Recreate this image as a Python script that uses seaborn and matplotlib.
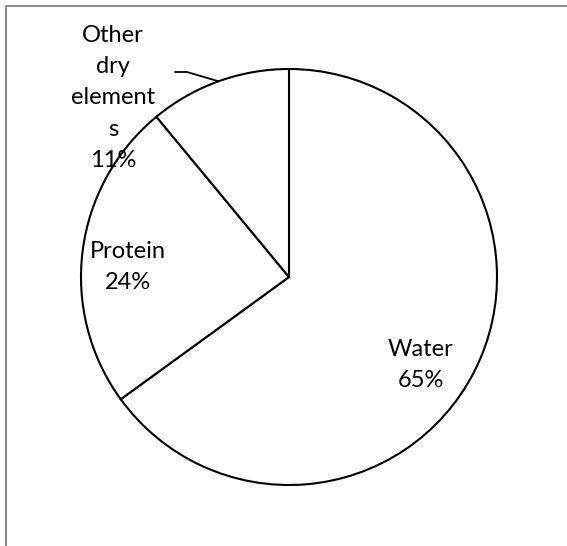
import matplotlib
matplotlib.use("Agg")
import matplotlib.pyplot as plt
import seaborn as sns
import numpy as np
from matplotlib.lines import Line2D

# data
categories = ["Water", "Protein", "Other\ndry\nelement\ns"]
shares = [65, 24, 11]
pct_labels = ["65%", "24%", "11%"]

sns.set_style("white")
plt.rcParams['font.family'] = ['Lato', 'DejaVu Sans']

W, H = 567, 546
fig = plt.figure(figsize=(W / 100, H / 100), dpi=100, facecolor='white')
ax = fig.add_axes([0, 0, 1, 1])

cx, cy, r = 289, H - 277, 208
wedges, _ = ax.pie(shares, startangle=90, counterclock=False, center=(cx, cy),
                   radius=r, colors=['white'] * len(shares),
                   wedgeprops=dict(edgecolor='black', linewidth=1.5))
ax.set_xlim(0, W)
ax.set_ylim(0, H)
ax.set_aspect('equal')
ax.axis('off')

# label positions in pixel coords (x, y from top)
label_pos = [(421, 365), (128, 267), (113, 98)]
for cat, pct, (lx, ly) in zip(categories, pct_labels, label_pos):
    ax.text(lx, H - ly, cat + "\n" + pct, ha='center', va='center',
            fontsize=17, linespacing=1.6, color='black')

# leader line for the small slice
w = wedges[2]
mid = np.deg2rad((w.theta1 + w.theta2) / 2)
ex, ey = cx + r * np.cos(mid), cy + r * np.sin(mid)
ax.plot([175, 187, ex], [H - 72, H - 72, ey], color='black', lw=1.3)

# chart frame (only top and left edges fall inside the image)
fx, fy = 5.5 / W, (H - 5.5) / H
fig.add_artist(Line2D([fx, fx, 1.0], [0.0, fy, fy], transform=fig.transFigure,
                      color='#8c8c8c', lw=1.5))

fig.savefig("out.png", dpi=100, facecolor='white')
